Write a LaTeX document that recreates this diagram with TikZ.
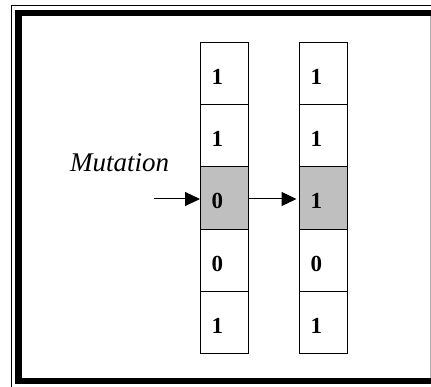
\documentclass[tikz,border=0pt]{standalone}
\usepackage{fontspec}
\setmainfont{Liberation Serif}
\usetikzlibrary{arrows.meta}
\begin{document}
\begin{tikzpicture}[x=1pt,y=1pt,
  cell/.style={draw=black, line width=1pt, minimum width=48pt, minimum height=62.33pt,
    inner xsep=11pt, inner ysep=0pt, text width=26pt, align=left, text height=22pt, text depth=0pt,
    font=\fontsize{23}{23}\selectfont\bfseries, anchor=north west},
  hit/.style={cell, fill=gray!50!white},
  conn/.style={line width=1pt, -{Triangle[length=15pt,width=14pt]}}]
\useasboundingbox (0,0) rectangle (431,-387);
\clip (0,0) rectangle (431,-387);
\fill[white] (0,0) rectangle (431,-387);
% frame
\draw[line width=1pt] (440,-5.5) -- (11.5,-5.5) -- (11.5,-400);
\draw[line width=6.5pt] (440,-13) -- (18.5,-13) -- (18.5,-381) -- (440,-381);
\draw[gray!60, line width=0.5pt] (430.5,-16.5) -- (430.5,-377.5);
% left column
\node[cell] (L1) at (200,-41.7) {1};
\node[cell] (L2) at (200,-104) {1};
\node[hit]  (L3) at (200,-166.3) {0};
\node[cell] (L4) at (200,-228.7) {0};
\node[cell] (L5) at (200,-291) {1};
% right column
\node[cell] (R1) at (299,-41.7) {1};
\node[cell] (R2) at (299,-104) {1};
\node[hit]  (R3) at (299,-166.3) {1};
\node[cell] (R4) at (299,-228.7) {0};
\node[cell] (R5) at (299,-291) {1};
% label and arrows
\node[anchor=base west, inner sep=0pt, font=\fontsize{27}{27}\selectfont\itshape] (mut) at (70,-172) {Mutation};
\coordinate (src) at (154,-199);
\draw[conn] (src) -- (L3.west |- src);
\draw[conn] (L3.east |- src) -- ([xshift=-2.5pt]R3.west |- src);
\end{tikzpicture}
\end{document}
